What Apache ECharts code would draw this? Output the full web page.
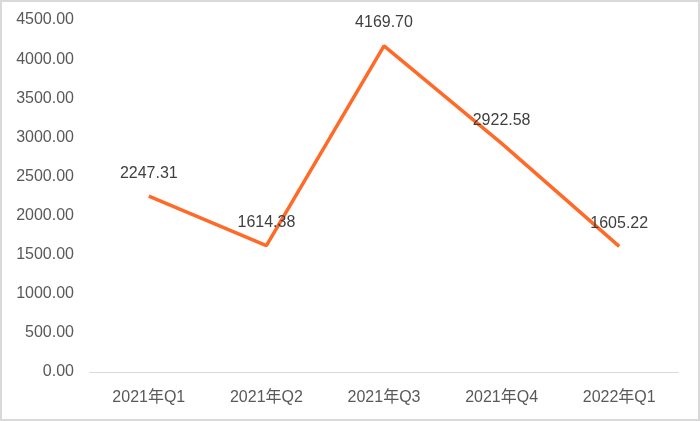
<!DOCTYPE html>
<html><head><meta charset="utf-8">
<script src="https://cdn.jsdelivr.net/npm/echarts@6/dist/echarts.min.js"></script>
<style>
html,body{margin:0;padding:0;background:#fff;}
#c{position:absolute;left:0;top:0;width:696px;height:417px;border:2px solid #d9d9d9;}
</style></head>
<body><div id="c"></div>
<script>
const categories = ['2021年Q1','2021年Q2','2021年Q3','2021年Q4','2022年Q1'];
const values = [2247.31, 1614.38, 4169.70, 2922.58, 1605.22];
const yMin = 0, yMax = 4500, yStep = 500;

const chart = echarts.init(document.getElementById('c'));
const font = '"Liberation Sans","Noto Sans CJK SC",Arial,sans-serif';
chart.setOption({
  animation:false,
  grid:{left:88,right:20,top:18,bottom:47},
  xAxis:{type:'category',data:categories,boundaryGap:true,
    axisLine:{lineStyle:{color:'#d9d9d9',width:1}},axisTick:{show:false},
    axisLabel:{color:'#595959',fontSize:16,fontFamily:font,margin:18}},
  yAxis:{type:'value',min:yMin,max:yMax,interval:yStep,
    axisLine:{show:false},axisTick:{show:false},splitLine:{show:false},
    axisLabel:{color:'#595959',fontSize:16,fontFamily:font,margin:16,formatter:v=>v.toFixed(2)}},
  series:[{type:'line',data:values,symbol:'circle',symbolSize:2,showSymbol:true,
    itemStyle:{color:'rgba(0,0,0,0)',borderColor:'rgba(0,0,0,0)',borderWidth:0},
    lineStyle:{color:'#FF6A28',width:3.5},
    label:{show:true,position:'top',distance:14,color:'#404040',fontSize:16,fontFamily:font,formatter:p=>p.value.toFixed(2)}}]
});
</script></body></html>
